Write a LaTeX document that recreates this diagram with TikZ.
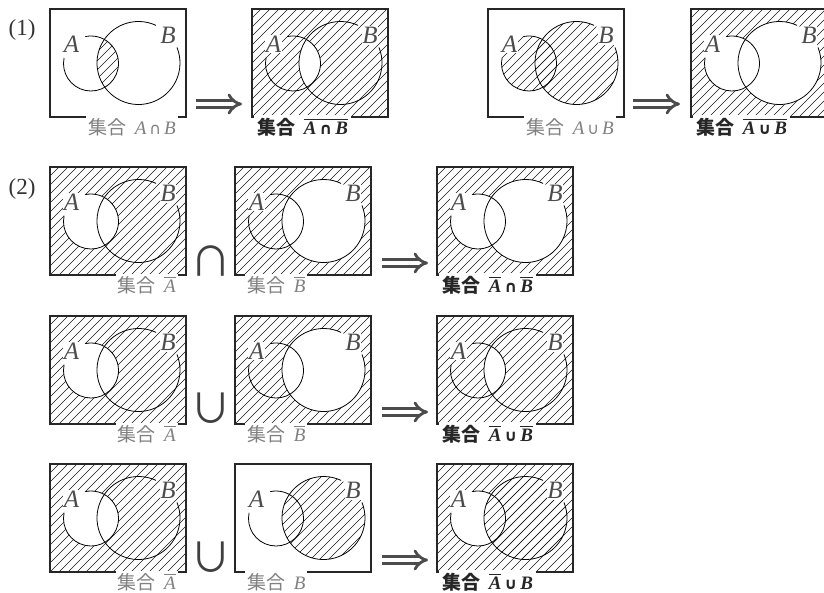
\documentclass[tikz,border=0pt]{standalone}
\usepackage{fontspec}
\setmainfont{Liberation Serif}
\newfontfamily\cjk{Noto Sans CJK JP}
\newfontfamily\symf{DejaVu Sans}
\usetikzlibrary{arrows.meta}

\tikzset{
	frame/.style={
			draw=black!85,
			line width=1.2pt
		},
	circ/.style={
			draw=black,
			line width=0.8pt
		},
	hatchline/.style={
			draw=black!90,
			line width=0.5pt
		},
	setname/.style={
			fill=white,
			inner sep=0.8pt,
			text=black!70,
			font=\fontsize{25}{25}\selectfont\itshape
		},
	lblgray/.style={
			fill=white,
			inner sep=2pt,
			text=black!50,
			font=\fontsize{19}{19}\selectfont
		},
	lblright/.style={lblgray, anchor=east, at={(128,-118)}},
	lblleft/.style={lblgray, anchor=west, at={(10,-118)}},
	lblbold/.style={
			fill=white,
			inner sep=3pt,
			text=black!85,
			anchor=west,
			at={(2,-118)},
			font=\fontsize{19}{19}\selectfont\bfseries
		},
	opsym/.style={
			inner sep=0pt,
			text=black!75,
			font=\cjk\fontsize{41}{41}\selectfont
		},
	implies/.style={
			draw=black!70,
			line width=2.8pt,
			double=white,
			double distance=4pt,
			-{Implies}
		},
	partlabel/.style={
			inner sep=0pt,
			text=black!80,
			font=\fontsize{23}{23}\selectfont
		}
}

% one panel: box, circles A and B
\newcommand\boxp{(0,0) rectangle (136,-108)}
\newcommand\Ap{(41,-54.5) circle[radius=27.5]}
\newcommand\Bp{(88.5,-54) circle[radius=41.5]}
\newcommand\hatchlines{\foreach \k in {-108,-99,...,136} \draw[hatchline] (\k,-108) -- ++(108,108);}
\newcommand\hatchin[1]{\begin{scope}\clip #1; \hatchlines\end{scope}}
\newcommand\hatchAnB{\begin{scope}\clip\Ap; \clip\Bp; \hatchlines\end{scope}}
\newcommand\hatchnotAnB{\hatchin\boxp \begin{scope}\clip\Ap; \fill[white]\Bp; \end{scope}}
\newcommand\hatchAuB{\hatchin\Ap \hatchin\Bp}
\newcommand\hatchnotAuB{\hatchin\boxp \fill[white]\Ap; \fill[white]\Bp;}
\newcommand\hatchnotA{\hatchin\boxp \fill[white]\Ap;}
\newcommand\hatchnotB{\hatchin\boxp \fill[white]\Bp;}
\newcommand\hatchB{\hatchin\Bp}
\newcommand\hatchnotAorB{\hatchin\boxp \fill[white]\Ap; \hatchin\Bp}

\newcommand\vennpanel[5]{%
  \begin{scope}[shift={(#2)}]
    #3
    \draw[circ] (41,-54.5) ++(168:27.5) arc[start angle=168, end angle=462, radius=27.5];
    \draw[circ] (88.5,-54) ++(65:41.5) arc[start angle=65, end angle=382, radius=41.5];
    \draw[frame] \boxp;
    \node[setname] (#1A) at (21.6,-35) {A};
    \node[setname] (#1B) at (118,-26.5) {B};
    \node[#4] (#1L) {#5};
  \end{scope}}

% label pieces
\newcommand\jh{{\cjk 集合}\hspace{0.45em}}
\newcommand\lcap{\hspace{3pt}{\symf\fontsize{16}{16}\selectfont ∩}\hspace{3pt}}
\newcommand\lcup{\hspace{3pt}{\symf\fontsize{16}{16}\selectfont ∪}\hspace{3pt}}
\newcommand\ovl[1]{\vbox{\hrule height 1.2pt\kern 1.5pt\hbox{#1}}}

\begin{document}
\begin{tikzpicture}[x=1pt, y=1pt]
\useasboundingbox (0,0) rectangle (824,-592);
\clip (0,0) rectangle (824,-592);

\node[partlabel] (p1) at (22,-30) {(1)};
\node[partlabel] (p2) at (22,-189) {(2)};

% (1)
\vennpanel{a}{50,-9}{\hatchAnB}{lblright}{\jh\textit{A}\lcap\textit{B}}
\vennpanel{b}{252,-9}{\hatchnotAnB}{lblbold}{\jh\ovl{\textit{A}\lcap\textit{B}}}
\vennpanel{c}{488,-9}{\hatchAuB}{lblright}{\jh\textit{A}\lcup\textit{B}}
\vennpanel{d}{691,-9}{\hatchnotAuB}{lblbold}{\jh\ovl{\textit{A}\lcup\textit{B}}}

\coordinate (i1s) at (196,-104);
\coordinate (i1e) at (242,-104);
\coordinate (i2s) at (633,-104);
\coordinate (i2e) at (680,-104);
\draw[implies] (i1s) -- (i1e);
\draw[implies] (i2s) -- (i2e);

% (2)
\vennpanel{e}{50,-167}{\hatchnotA}{lblright}{\jh\ovl{\textit{A}}}
\vennpanel{f}{235,-167}{\hatchnotB}{lblleft}{\jh\ovl{\textit{B}}}
\vennpanel{g}{437,-167}{\hatchnotAuB}{lblbold}{\jh\ovl{\textit{A}}\lcap\ovl{\textit{B}}}
\node[opsym] (op1) at (211,-261.5) {∩};

\vennpanel{h}{50,-316}{\hatchnotA}{lblright}{\jh\ovl{\textit{A}}}
\vennpanel{i}{235,-316}{\hatchnotB}{lblleft}{\jh\ovl{\textit{B}}}
\vennpanel{j}{437,-316}{\hatchnotAnB}{lblbold}{\jh\ovl{\textit{A}}\lcup\ovl{\textit{B}}}
\node[opsym] (op2) at (211,-408) {∪};

\vennpanel{k}{50,-464}{\hatchnotA}{lblright}{\jh\ovl{\textit{A}}}
\vennpanel{l}{235,-464}{\hatchB}{lblleft}{\jh\textit{B}}
\vennpanel{m}{437,-464}{\hatchnotAorB}{lblbold}{\jh\ovl{\textit{A}}\lcup\textit{B}}
\node[opsym] (op3) at (211,-557) {∪};

\coordinate (i3s) at (382,-263);
\coordinate (i3e) at (428,-263);
\coordinate (i4s) at (382,-412);
\coordinate (i4e) at (428,-412);
\coordinate (i5s) at (382,-560);
\coordinate (i5e) at (428,-560);
\draw[implies] (i3s) -- (i3e);
\draw[implies] (i4s) -- (i4e);
\draw[implies] (i5s) -- (i5e);
\end{tikzpicture}
\end{document}
